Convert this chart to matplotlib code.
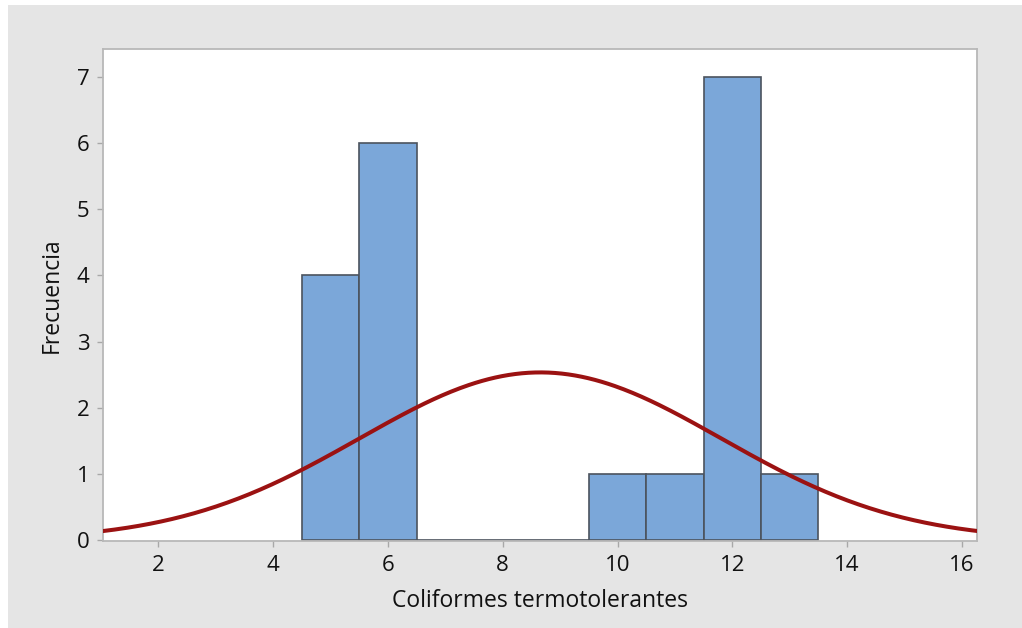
import numpy as np
import matplotlib.pyplot as plt
import matplotlib.patches as patches

# histogram bins (centre of each bin, width 1) and counts
bin_centers = [5, 6, 7, 8, 9, 10, 11, 12, 13]
counts = [4, 6, 0, 0, 0, 1, 1, 7, 1]

# fitted normal curve parameters
fit_mean = 8.655
fit_sd = 3.15
n_obs = 20

x_ticks = [2, 4, 6, 8, 10, 12, 14, 16]
y_ticks = [0, 1, 2, 3, 4, 5, 6, 7]

plt.rcParams['font.family'] = ['Open Sans', 'DejaVu Sans']
plt.rcParams['font.weight'] = 'medium'

fig = plt.figure(figsize=(10.22, 6.28), dpi=100)
fig.patch.set_facecolor('white')
# grey panel behind the chart
fig.patches.append(patches.Rectangle((8 / 1022, 0), 1 - 8 / 1022, 1 - 5 / 628,
                                     transform=fig.transFigure, facecolor='#e5e5e5',
                                     edgecolor='none', zorder=-5))

ax = fig.add_axes([0.1011, 0.139, 0.9563 - 0.1011, 0.922 - 0.139])
ax.set_zorder(1)
ax.set_facecolor('white')

ax.bar(bin_centers, counts, width=1.0, color='#7ba7d9', edgecolor='#4b535e',
       linewidth=1.2, zorder=2)

xs = np.linspace(1.0, 16.4, 400)
binw = 1.0
ys = n_obs * binw / (fit_sd * np.sqrt(2 * np.pi)) * np.exp(-0.5 * ((xs - fit_mean) / fit_sd) ** 2)
ax.plot(xs, ys, color='#9b1212', linewidth=2.9, zorder=3, solid_capstyle='butt')

ax.set_xlim(1.04, 16.27)
ax.set_ylim(-0.01, 7.42)
ax.set_xticks(x_ticks)
ax.set_yticks(y_ticks)

for s in ax.spines.values():
    s.set_color('#b8b8b8')
    s.set_linewidth(1.3)

ax.tick_params(axis='both', which='major', direction='out', length=4, width=1,
               color='#a8a8a8', labelsize=16, pad=6, labelcolor='#111111')

ax.set_xlabel('Coliformes termotolerantes', fontsize=16.5, labelpad=10, color='#111111')
ax.set_ylabel('Frecuencia', fontsize=16.5, labelpad=9, color='#111111')

fig.savefig('out.png', dpi=100, facecolor=fig.get_facecolor())
